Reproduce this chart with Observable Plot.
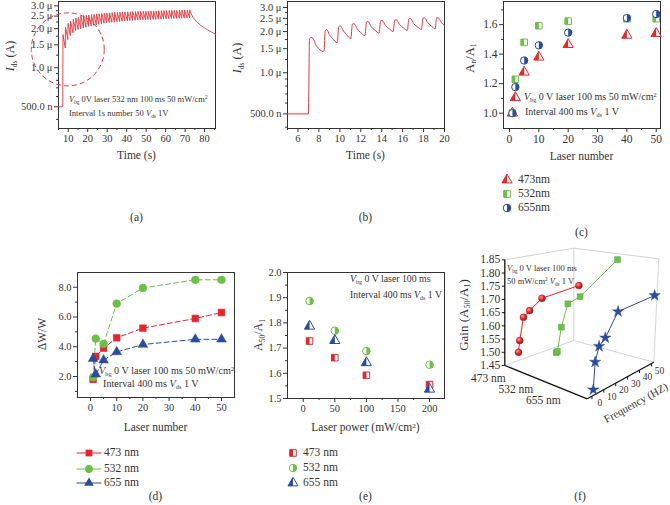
<!DOCTYPE html>
<html><head><meta charset="utf-8">
<script src="https://cdn.jsdelivr.net/npm/d3@7"></script>
<script src="https://cdn.jsdelivr.net/npm/@observablehq/plot@0.6"></script>
<style>
html,body{margin:0;padding:0;background:#fff;}
#root{position:relative;width:670px;height:505px;overflow:hidden;background:#fff;font-family:"Liberation Serif","Times New Roman",serif;color:#333;}
.t{position:absolute;white-space:nowrap;line-height:1;}
.t sub{font-size:62%;vertical-align:-0.35em;line-height:0;}
.t sup{font-size:62%;vertical-align:0.5em;line-height:0;}
.sw{position:absolute;overflow:visible;}
</style></head><body><div id="root"></div>
<script>
// ---------------- DATA ----------------
// (a) Ids vs time, 50 pulses (values in µA)
const aBaseline = [[5.0, 0.5], [6.9, 0.5]];
const aPulseT = [7.3, 8.6, 9.9, 11.2, 12.6, 13.9, 15.2, 16.5, 17.9, 19.2,
  20.5, 21.9, 23.2, 24.5, 25.8, 27.2, 28.5, 29.8, 31.2, 32.5,
  33.8, 35.2, 36.5, 37.8, 39.1, 40.5, 41.8, 43.1, 44.5, 45.8,
  47.1, 48.5, 49.8, 51.1, 52.4, 53.8, 55.1, 56.4, 57.8, 59.1,
  60.4, 61.8, 63.1, 64.4, 65.7, 67.1, 68.4, 69.7, 71.1, 72.4];
const aPeak = [1.80, 2.06, 2.20, 2.29, 2.37, 2.41, 2.44, 2.50, 2.53, 2.53,
  2.55, 2.57, 2.58, 2.60, 2.61, 2.62, 2.63, 2.64, 2.65, 2.66,
  2.67, 2.67, 2.68, 2.69, 2.69, 2.70, 2.70, 2.71, 2.71, 2.72,
  2.72, 2.72, 2.73, 2.73, 2.74, 2.74, 2.74, 2.75, 2.75, 2.76,
  2.76, 2.76, 2.77, 2.77, 2.77, 2.78, 2.78, 2.79, 2.79, 2.80];
const aTrough = [1.42, 1.65, 1.77, 1.86, 1.94, 1.97, 2.00, 2.03, 2.05, 2.08,
  2.10, 2.12, 2.14, 2.16, 2.18, 2.20, 2.21, 2.23, 2.24, 2.25,
  2.26, 2.27, 2.28, 2.29, 2.30, 2.31, 2.31, 2.32, 2.33, 2.33,
  2.34, 2.34, 2.35, 2.35, 2.36, 2.36, 2.37, 2.37, 2.38, 2.38,
  2.39, 2.39, 2.40, 2.40, 2.40, 2.41, 2.41, 2.42, 2.42, 2.42];
const aDecay = [[72.9, 2.65], [74, 2.45], [76, 2.25], [78, 2.12], [81, 1.98], [85.6, 1.81]];
const aXTicks = [10, 20, 30, 40, 50, 60, 70, 80];
const aXMinor = [5, 15, 25, 35, 45, 55, 65, 75, 85];
const aYTicks = [0.5, 1.0, 1.5, 2.0, 2.5, 3.0];
const aYTickLabels = ["500.0 n", "1.0 μ", "1.5 μ", "2.0 μ", "2.5 μ", "3.0 μ"];
const aYMinor = [0.4, 0.6, 0.7, 0.8, 0.9, 1.25, 1.75, 2.25, 2.75];
const aCircle = {t: 9.75, v: 1.385};

// (b) zoom of first pulses (µA)
const bT = [5.0, 7.0, 7.1, 7.25, 7.45, 7.7, 8.0, 8.4, 8.5, 8.6, 8.75, 9.0, 9.3, 9.75, 9.9, 10.05, 10.35, 10.65, 11.05,
  11.2, 11.35, 11.65, 11.95, 12.4, 12.55, 12.7, 13.0, 13.35, 13.75, 13.9, 14.05, 14.35, 14.7, 15.1,
  15.25, 15.4, 15.7, 16.05, 16.45, 16.6, 16.75, 17.05, 17.4, 17.8, 17.95, 18.1, 18.4, 18.75, 19.1,
  19.25, 19.4, 19.7, 20.0];
const bI = [0.5, 0.5, 1.75, 1.82, 1.78, 1.60, 1.50, 1.43, 1.45, 2.04, 2.07, 1.90, 1.78, 1.66, 2.17, 2.20, 2.02, 1.90, 1.78,
  2.27, 2.29, 2.10, 1.98, 1.87, 2.35, 2.37, 2.17, 2.05, 1.95, 2.40, 2.41, 2.22, 2.10, 2.00,
  2.43, 2.44, 2.25, 2.13, 2.04, 2.48, 2.49, 2.29, 2.17, 2.07, 2.51, 2.52, 2.32, 2.20, 2.09,
  2.52, 2.52, 2.33, 2.21];
const bXTicks = [6, 8, 10, 12, 14, 16, 18, 20];
const bXMinor = [5, 7, 9, 11, 13, 15, 17, 19];

// (c) An/A1 vs laser number
const cX = [1, 2, 5, 10, 20, 40, 50];
const c473 = [1.0, 1.105, 1.278, 1.38, 1.465, 1.528, 1.54];
const c532 = [1.0, 1.23, 1.48, 1.593, 1.624, 1.64, 1.64];
const c655 = [1.0, 1.177, 1.357, 1.46, 1.546, 1.645, 1.672];
const cYTicks = [1.0, 1.2, 1.4, 1.6];
const cYMinor = [1.1, 1.3, 1.5, 1.7];
const numTicks = [0, 10, 20, 30, 40, 50];
const numMinor = [5, 15, 25, 35, 45];

// (d) ΔW/W vs laser number
const dX = [1, 2, 5, 10, 20, 40, 50];
const d473 = [1.8, 3.35, 3.9, 4.6, 5.25, 5.9, 6.3];
const d532 = [1.95, 4.55, 4.2, 6.9, 7.95, 8.5, 8.5];
const d655 = [3.2, 2.15, 3.1, 3.65, 4.15, 4.5, 4.5];
const dYTicks = [2, 4, 6, 8];
const dYMinor = [1, 3, 5, 7];

// (e) A50/A1 vs laser power
const eX = [10, 50, 100, 200];
const e473 = [1.728, 1.662, 1.592, 1.555];
const e532 = [1.887, 1.769, 1.688, 1.634];
const e655 = [1.787, 1.73, 1.642, 1.537];
const eXTicks = [0, 50, 100, 150, 200];
const eXMinor = [25, 75, 125, 175];
const eYTicks = [1.5, 1.6, 1.7, 1.8, 1.9, 2.0];
const eYMinor = [1.55, 1.65, 1.75, 1.85, 1.95];

// (f) 3D gain vs frequency for three wavelengths
const fWavelengths = ["473 nm", "532 nm", "655 nm"];
const fFreq = [1, 2, 5, 10, 20, 50];
const f473 = [1.503, 1.546, 1.630, 1.649, 1.684, 1.697];
const f532 = [1.552, 1.555, 1.638, 1.716, 1.728, 1.830];
const f655 = [1.470, 1.564, 1.613, 1.633, 1.708, 1.712];
const fGainTicks = [1.45, 1.50, 1.55, 1.60, 1.65, 1.70, 1.75, 1.80, 1.85];
const fFreqTicks = [0, 10, 20, 30, 40, 50];

// ---------------- STYLE ----------------
const FONT = '"Liberation Serif","Times New Roman",serif';
const INK = "#333";
const RED = "#e3262c", GREEN = "#6cbf47", BLUE = "#2b4b9c", LINE_A = "#e4373e";
const root = document.getElementById("root");
const STY = {fontFamily: FONT, fontSize: "10.5px", background: "transparent", overflow: "visible", color: INK};
function box(l, r, t, b) { return {width: 670, height: 505, marginLeft: l, marginRight: 670 - r, marginTop: t, marginBottom: 505 - b, style: STY}; }
function place(svg) { svg.style.position = "absolute"; svg.style.left = "0px"; svg.style.top = "0px"; root.appendChild(svg); }
function T(html, x, y, o = {}) {
  const d = document.createElement("div");
  d.className = "t"; d.innerHTML = html;
  d.style.left = x + "px"; d.style.top = y + "px"; d.style.fontSize = (o.fs || 11.5) + "px";
  const ax = o.anchor === "start" ? "0" : o.anchor === "end" ? "-100%" : "-50%";
  d.style.transform = `translate(${ax},-50%)` + (o.rot ? ` rotate(${o.rot}deg)` : "");
  root.appendChild(d);
}
const blank = () => "";
const fmt1 = d => (+d).toFixed(1);
const fmt2 = d => (+d).toFixed(2);

// half-filled custom symbols (same geometry as d3 symbols)
const SQ3 = Math.sqrt(3);
const halfTri = {draw(c, size) { const y = -Math.sqrt(size / (SQ3 * 3)); c.moveTo(0, y * 2); c.lineTo(SQ3 * y, -y); c.lineTo(0, -y); c.closePath(); }};
const halfSq = {draw(c, size) { const w = Math.sqrt(size); c.moveTo(-w / 2, -w / 2); c.lineTo(0, -w / 2); c.lineTo(0, w / 2); c.lineTo(-w / 2, w / 2); c.closePath(); }};
const halfCirc = {draw(c, size) { const r = Math.sqrt(size / Math.PI); c.moveTo(0, -r); c.arc(0, 0, r, -Math.PI / 2, Math.PI / 2); c.closePath(); }};
const rows = (xs, ys) => xs.map((x, i) => ({x, y: ys[i]}));
function halfDots(data, full, half, color, r) {
  return [Plot.dot(data, {x: "x", y: "y", symbol: full, r, fill: "white", stroke: color, strokeWidth: 1}),
          Plot.dot(data, {x: "x", y: "y", symbol: half, r, fill: color})];
}
// ticks via axis marks, labels via text marks anchored to the frame
function axesMarks(xT, xM, yT, yM, yLabels, xLabels, fs) {
  return [
    Plot.axisX(xT, {tickSize: 4, tickFormat: blank, label: null}),
    Plot.axisX(xM, {tickSize: 2, tickFormat: blank, label: null}),
    Plot.axisY(yT, {tickSize: 4, tickFormat: blank, label: null}),
    Plot.axisY(yM, {tickSize: 2, tickFormat: blank, label: null}),
    Plot.text(xT, {x: d => d, text: (d, i) => xLabels[i], frameAnchor: "bottom", lineAnchor: "top", dy: 6, fontSize: fs, fill: INK}),
    Plot.text(yT, {y: d => d, text: (d, i) => yLabels[i], frameAnchor: "left", textAnchor: "end", dx: -6, fontSize: fs, fill: INK})
  ];
}
const strs = (arr, f) => arr.map(f);

// ---------------- (a) ----------------
const aPts = [];
aBaseline.forEach(([t, v]) => aPts.push({t, v}));
aPulseT.forEach((t, i) => {
  aPts.push({t: t - 0.12, v: i === 0 ? aBaseline[aBaseline.length - 1][1] : aTrough[i - 1]});
  aPts.push({t, v: aPeak[i]});
});
aDecay.forEach(([t, v]) => aPts.push({t, v}));
place(Plot.plot({
  ...box(58, 215, 1, 128),
  x: {domain: [5, 85.6], label: null},
  y: {type: "log", domain: [0.34, 3.24], label: null},
  marks: [
    Plot.frame({stroke: INK}),
    ...axesMarks(aXTicks, aXMinor, aYTicks, aYMinor, aYTickLabels, strs(aXTicks, String), 10.5),
    Plot.line(aPts, {x: "t", y: "v", stroke: LINE_A, strokeWidth: 0.9}),
    Plot.dot([aCircle], {x: "t", y: "v", r: 36.5, stroke: LINE_A, strokeWidth: 1, strokeDasharray: "5,3", fill: "none"})
  ]
}));

// ---------------- (b) ----------------
place(Plot.plot({
  ...box(287, 444, 1, 128),
  x: {domain: [5, 20], label: null},
  y: {type: "log", domain: [0.391, 3.32], label: null},
  marks: [
    Plot.frame({stroke: INK}),
    ...axesMarks(bXTicks, bXMinor, aYTicks, aYMinor, aYTickLabels, strs(bXTicks, String), 10.5),
    Plot.line(rows(bT, bI), {x: "x", y: "y", stroke: LINE_A, strokeWidth: 1, curve: "monotone-x"})
  ]
}));

// ---------------- (c) ----------------
place(Plot.plot({
  ...box(503, 660, 1, 128),
  x: {domain: [-2.04, 51.46], label: null},
  y: {domain: [0.896, 1.757], label: null},
  marks: [
    Plot.frame({stroke: INK}),
    ...axesMarks(numTicks, numMinor, cYTicks, cYMinor, strs(cYTicks, fmt1), strs(numTicks, String), 11.5),
    ...halfDots(rows(cX, c473), "triangle", halfTri, RED, 3.8),
    ...halfDots(rows(cX, c532), "square", halfSq, GREEN, 3.7),
    ...halfDots(rows(cX, c655), "circle", halfCirc, BLUE, 3.7)
  ]
}));

// ---------------- (d) ----------------
const dSeries = [[d473, RED, "square", 3.8], [d532, GREEN, "circle", 3.9], [d655, BLUE, "triangle", 3.6]];
place(Plot.plot({
  ...box(77, 234, 272, 397),
  x: {domain: [-4.96, 54.96], label: null},
  y: {domain: [0.59, 8.99], label: null},
  marks: [
    Plot.frame({stroke: INK}),
    ...axesMarks(numTicks, numMinor, dYTicks, dYMinor, strs(dYTicks, fmt1), strs(numTicks, String), 10.5),
    ...dSeries.map(([ys, col]) => Plot.line(rows(dX, ys), {x: "x", y: "y", stroke: col, strokeWidth: 1, strokeDasharray: "5,3"})),
    ...dSeries.map(([ys, col, sym, r]) => Plot.dot(rows(dX, ys), {x: "x", y: "y", symbol: sym, r, fill: col, stroke: col, strokeWidth: 0.5}))
  ]
}));

// ---------------- (e) ----------------
place(Plot.plot({
  ...box(287, 444, 272, 398),
  x: {domain: [-24.9, 223.7], label: null},
  y: {domain: [1.5, 2.0], label: null},
  marks: [
    Plot.frame({stroke: INK}),
    ...axesMarks(eXTicks, eXMinor, eYTicks, eYMinor, strs(eYTicks, fmt1), strs(eXTicks, String), 10.5),
    ...halfDots(rows(eX, e473), "square", halfSq, RED, 3.7),
    ...halfDots(rows(eX, e532), "circle", halfCirc, GREEN, 3.8),
    ...halfDots(rows(eX, e655), "triangle", halfTri, BLUE, 3.8)
  ]
}));

// ---------------- (f) pseudo-3D ----------------
const G = {A: [504.3, 365], B: [586.7, 398.3], C: [653.3, 361.7], D: [573.3, 340],
           At: [504.3, 259.3], Bt: [589.3, 281.7], Ct: [658.3, 258.3], Dt: [573.3, 247.7]};
const uData = d3.scaleLinear([-0.2, 2.0], [0, 1]);     // wavelength index -> depth fraction
const uLabel = d3.scaleLinear([0, 3], [0, 1]);         // axis label placement
const vF = d3.scaleLinear([-4, 52], [0, 1]);            // frequency -> fraction
const hG = d3.scaleLinear([1.45, 1.85], [0, 1]);        // gain -> height fraction
function bil(P00, P10, P11, P01, u, v) {
  return [0, 1].map(k => P00[k] * (1 - u) * (1 - v) + P10[k] * u * (1 - v) + P11[k] * u * v + P01[k] * (1 - u) * v);
}
function proj(u, v, h) {
  const f = bil(G.A, G.B, G.C, G.D, u, v), t = bil(G.At, G.Bt, G.Ct, G.Dt, u, v);
  return [f[0] + (t[0] - f[0]) * h, f[1] + (t[1] - f[1]) * h];
}
const edge = (p, q) => ({x1: p[0], y1: p[1], x2: q[0], y2: q[1]});
const grayEdges = [
  edge(proj(0, 0, 0), proj(0, 1, 0)), edge(proj(0, 1, 0), proj(1, 1, 0)),
  edge(proj(0, 1, 0), proj(0, 1, 1)), edge(proj(0, 0, 1), proj(0, 1, 1)),
  edge(proj(0, 1, 1), proj(1, 1, 1)), edge(proj(1, 1, 0), proj(1, 1, 1))
];
const blackEdges = [
  edge(proj(0, 0, 0), proj(0, 0, 1)), edge(proj(0, 0, 0), proj(1, 0, 0)), edge(proj(1, 0, 0), proj(1, 1, 0))
];
const fSeries = [[f473, RED, "circle"], [f532, GREEN, "square"], [f655, BLUE, "star"]];
const fRows = fSeries.map(([gs], si) => fFreq.map((f, j) => {
  const p = proj(uData(si), vF(f), hG(gs[j])); return {x: p[0], y: p[1]};
}));
const gainTickRows = fGainTicks.map(g => { const p = proj(0, 0, hG(g)); return {g, x: p[0], y: p[1]}; });
const freqTickRows = fFreqTicks.map(f => { const p = proj(1, vF(f), 0); return {f, x: p[0], y: p[1]}; });
const wlRows = fWavelengths.map((w, i) => { const p = proj(uLabel(i), 0, 0); return {w, x: p[0], y: p[1]}; });
const sphereDefs = () => {
  const d = d3.create("svg:defs");
  const g = d.append("radialGradient").attr("id", "sph").attr("cx", "38%").attr("cy", "35%").attr("r", "65%");
  g.append("stop").attr("offset", "0%").attr("stop-color", "#f6a3a3");
  g.append("stop").attr("offset", "55%").attr("stop-color", "#e0262b");
  g.append("stop").attr("offset", "100%").attr("stop-color", "#a5141a");
  return d.node();
};
place(Plot.plot({
  width: 670, height: 505, margin: 0, style: STY,
  x: {type: "identity", axis: null}, y: {type: "identity", axis: null},
  marks: [
    sphereDefs,
    Plot.link(grayEdges, {x1: "x1", y1: "y1", x2: "x2", y2: "y2", stroke: "#c9c9c9", strokeWidth: 0.8}),
    Plot.link(blackEdges, {x1: "x1", y1: "y1", x2: "x2", y2: "y2", stroke: "#111", strokeWidth: 1.3}),
    Plot.link(gainTickRows, {x1: d => d.x - 3, x2: "x", y1: "y", y2: "y", stroke: "#111"}),
    Plot.text(gainTickRows, {x: "x", y: "y", text: d => fmt2(d.g), textAnchor: "end", dx: -4.5, fontSize: 11.5, fill: INK}),
    Plot.link(freqTickRows, {x1: "x", x2: "x", y1: "y", y2: d => d.y + 3, stroke: "#111"}),
    Plot.text(freqTickRows, {x: "x", y: "y", text: d => String(d.f), dx: 8, dy: 7, fontSize: 9.5, fill: INK}),
    Plot.text(wlRows, {x: "x", y: "y", text: "w", textAnchor: "end", dx: 1, dy: 12.5, fontSize: 11.5, fill: INK}),
    ...fSeries.map(([gs, col], si) => Plot.line(fRows[si], {x: "x", y: "y", stroke: col, strokeWidth: 1})),
    Plot.dot(fRows[0], {x: "x", y: "y", r: 3.5, fill: "url(#sph)", stroke: "#b51a1f", strokeWidth: 0.4}),
    Plot.dot(fRows[1], {x: "x", y: "y", symbol: "square", r: 3.3, fill: GREEN, stroke: "#3f9a2a", strokeWidth: 0.4}),
    Plot.dot(fRows[2], {x: "x", y: "y", symbol: "star", r: 3.6, fill: BLUE, stroke: BLUE, strokeWidth: 0.4})
  ]
}));

// ---------------- TEXT ----------------
T("<i>I</i><sub>ds</sub> (A)", 10, 56, {rot: -90, fs: 12});
T("Time (s)", 136.5, 156);
T("(a)", 136.5, 218);
T("<i>V</i><sub>bg</sub> 0V laser 532 nm 100 ms 50 mW/cm<sup>2</sup>", 69, 98.7, {anchor: "start", fs: 8.5});
T("Interval 1s number 50 <i>V</i><sub>ds</sub> 1V", 69, 112.7, {anchor: "start", fs: 8.5});

T("<i>I</i><sub>ds</sub> (A)", 237, 58, {rot: -90, fs: 12});
T("Time (s)", 365.5, 156);
T("(b)", 365.5, 218);

T("A<sub>n</sub>/A<sub>1</sub>", 470, 58, {rot: -90, fs: 12.5});
T("Laser number", 581.5, 156.7);
T("(c)", 581.5, 233);
T("<i>V</i><sub>bg</sub> 0 V laser 100 ms 50 mW/cm<sup>2</sup>", 524, 97.3, {anchor: "start", fs: 10});
T("Interval 400 ms <i>V</i><sub>ds</sub> 1 V", 525, 112.3, {anchor: "start", fs: 10});

T("ΔW/W", 43, 334, {rot: -90, fs: 11.5});
T("Laser number", 155.5, 428.3);
T("(d)", 155.5, 497);
T("<i>V</i><sub>bg</sub> 0 V laser 100 ms 50 mW/cm<sup>2</sup>", 99, 370.7, {anchor: "start", fs: 10.2});
T("Interval 400 ms <i>V</i><sub>ds</sub> 1 V", 103, 384.3, {anchor: "start", fs: 10.2});

T("A<sub>50</sub>/A<sub>1</sub>", 258, 335, {rot: -90, fs: 12});
T("Laser power (mW/cm<sup>2</sup>)", 365.5, 428.3);
T("(e)", 365.5, 497);
T("<i>V</i><sub>bg</sub> 0 V laser 100 ms", 350, 279.3, {anchor: "start", fs: 9.8});
T("Interval 400 ms <i>V</i><sub>ds</sub> 1 V", 350, 295, {anchor: "start", fs: 9.8});

T("Gain (A<sub>50</sub>/A<sub>1</sub>)", 463, 315, {rot: -90, fs: 13});
T("Frequency (HZ)", 636, 403, {rot: -29, fs: 11});
T("(f)", 580, 497);
T("<i>V</i><sub>bg</sub> 0 V laser 100 ms", 507, 267.7, {anchor: "start", fs: 8.5});
T("50 mW/cm<sup>2</sup> <i>V</i><sub>ds</sub> 1 V", 507, 281, {anchor: "start", fs: 8.5});

// ---------------- LEGENDS ----------------
function swatch(cx, cy, parts) {
  const s = d3.create("svg").attr("class", "sw").attr("width", 30).attr("height", 14)
    .style("left", (cx - 15) + "px").style("top", (cy - 7) + "px");
  const g = s.append("g").attr("transform", "translate(15,7)");
  parts(g);
  root.appendChild(s.node());
}
const symP = (type, r) => d3.symbol(type, Math.PI * r * r)();
function halfSw(g, fullType, halfType, col, r) {
  g.append("path").attr("d", symP(fullType, r)).attr("fill", "white").attr("stroke", col);
  g.append("path").attr("d", symP(halfType, r)).attr("fill", col);
}
const cLeg = [["473nm", d3.symbolTriangle, halfTri, RED], ["532nm", d3.symbolSquare, halfSq, GREEN], ["655nm", d3.symbolCircle, halfCirc, BLUE]];
const cLegY = [180, 194.3, 208.3];
cLeg.forEach(([lab, ft, ht, col], i) => {
  swatch(507, cLegY[i], g => halfSw(g, ft, ht, col, 3.8));
  T(lab, 518, cLegY[i], {anchor: "start", fs: 11.5});
});
const dLeg = [["473 nm", d3.symbolSquare, RED, 3.8], ["532 nm", d3.symbolCircle, GREEN, 3.9], ["655 nm", d3.symbolTriangle, BLUE, 3.6]];
const dLegY = [453.3, 469.3, 482.7];
dLeg.forEach(([lab, st, col, r], i) => {
  swatch(88.5, dLegY[i], g => {
    g.append("line").attr("x1", -12.5).attr("x2", 12.5).attr("stroke", col).attr("stroke-width", 1);
    g.append("path").attr("d", symP(st, r)).attr("fill", col);
  });
  T(lab, 104, dLegY[i], {anchor: "start", fs: 11.5});
});
const eLeg = [["473 nm", d3.symbolSquare, halfSq, RED], ["532 nm", d3.symbolCircle, halfCirc, GREEN], ["655 nm", d3.symbolTriangle, halfTri, BLUE]];
const eLegY = [452.7, 467.7, 482.7];
eLeg.forEach(([lab, ft, ht, col], i) => {
  swatch(293, eLegY[i], g => halfSw(g, ft, ht, col, 3.7));
  T(lab, 303, eLegY[i], {anchor: "start", fs: 11.5});
});
</script></body></html>
